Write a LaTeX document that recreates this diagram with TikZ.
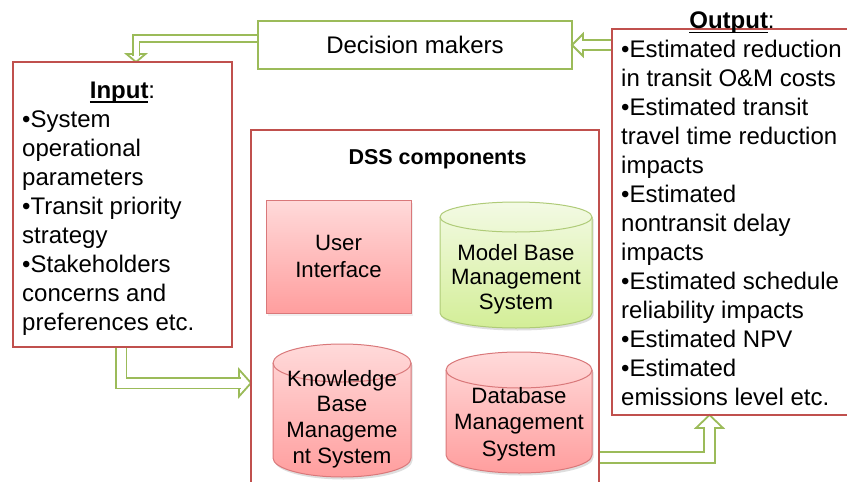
\documentclass[tikz,border=0pt]{standalone}
\usepackage{fontspec}
\setmainfont{Liberation Sans}
\usetikzlibrary{calc,shadows}

\definecolor{boxred}{HTML}{C0504D}
\definecolor{arrowgreen}{HTML}{9BBB59}
\definecolor{pinktop}{HTML}{FFDADA}
\definecolor{pinkbot}{HTML}{FF9E9E}
\definecolor{pinkedge}{HTML}{D9787A}
\definecolor{greentop}{HTML}{F3FAE4}
\definecolor{greenbot}{HTML}{D3EE97}
\definecolor{greenedge}{HTML}{AFCB78}

\pgfdeclarelayer{background}
\pgfsetlayers{background,main}

% underline that runs through descenders
\newcommand\titleul[1]{\setbox0\hbox{#1}\rlap{\rule[-4.8pt]{\wd0}{1.6pt}}\box0}

% cylinder outline: x0, x1, top, bottom, end radius
\newcommand\cylpath[5]{%
  (#1,{-(#3+#5)}) -- (#1,{-(#4-#5)})
     arc[start angle=180, end angle=360, x radius=\cylrx, y radius=#5]
     -- (#2,{-(#3+#5)})
     arc[start angle=0, end angle=180, x radius=\cylrx, y radius=#5] -- cycle}

% cylinder: x0, x1, top, bottom, end radius, fill style, edge colour
\newcommand\dsscyl[7]{%
  \pgfmathsetmacro\cylrx{(#2-#1)/2}%
  \path[fill=black, opacity=0.13, xshift=1.5pt, yshift=-2.5pt] \cylpath{#1}{#2}{#3}{#4}{#5};
  \path[#6] \cylpath{#1}{#2}{#3}{#4}{#5};
  \draw[draw=#7, line width=1pt] (#1,{-(#3+#5)})
     arc[start angle=180, end angle=360, x radius=\cylrx, y radius=#5];
}

\tikzset{
  redbox/.style={draw=boxred, line width=2pt, rectangle, inner sep=0pt, outer sep=0pt},
  greenbox/.style={draw=arrowgreen, line width=2pt, rectangle, inner sep=0pt, outer sep=0pt},
  bigtext/.style={font=\fontsize{24}{29}\selectfont},
  listtext/.style={bigtext, align=left, inner sep=0pt, anchor=north west},
  comptext/.style={font=\fontsize{22.2}{#1}\selectfont, align=center, inner sep=0pt},
  comptext/.default=26,
  shaftline/.style={draw=arrowgreen, line width=1.8pt, double=white, double distance=#1},
  headtri/.style={draw=arrowgreen, line width=1.8pt, fill=white, line join=miter},
  pinkfill/.style={top color=pinktop, bottom color=pinkbot, draw=pinkedge, line width=1pt},
  greenfill/.style={top color=greentop, bottom color=greenbot, draw=greenedge, line width=1pt},
}

\begin{document}
\begin{tikzpicture}[x=1pt, y=1pt]
\useasboundingbox (0,0) rectangle (847,-482);
\clip (0,0) rectangle (847,-482);

% decision makers
\node[greenbox, minimum width=314pt, minimum height=48pt, bigtext] (dm) at (415,-45) {Decision makers};

% input
\node[redbox, minimum width=219pt, minimum height=285pt, anchor=north west] (in) at (13,-62) {};
\node[bigtext, anchor=base, inner sep=0pt] (intitle) at (122.5,-98) {\titleul{\textbf{Input}}:};
\node[listtext] (inlist) at (22,-107) {\rule{0pt}{20pt}•System\\operational\\parameters\\•Transit priority\\strategy\\•Stakeholders\\concerns and\\preferences etc.};

% output
\node[redbox, minimum width=250pt, minimum height=386pt, anchor=north west] (out) at (612,-29) {};
\node[bigtext, anchor=base, inner sep=0pt] (outtitle) at (732,-28.5) {\titleul{\textbf{Output}}:};
\node[listtext] (outlist) at (621,-37) {\rule{0pt}{20pt}•Estimated reduction\\in transit O\&M costs\\•Estimated transit\\travel time reduction\\impacts\\•Estimated\\nontransit delay\\impacts\\•Estimated schedule\\reliability impacts\\•Estimated NPV\\•Estimated\\emissions level etc.};

% DSS components
\node[redbox, minimum width=348pt, minimum height=380pt, anchor=north west] (dss) at (251,-130) {};
\node[font=\fontsize{21.5}{26}\selectfont\bfseries, anchor=base, inner sep=0pt] (dsstitle) at (437.5,-164) {DSS components};

\node[pinkfill, minimum width=145pt, minimum height=113pt, comptext=27, outer sep=0pt,
      drop shadow={opacity=0.13, shadow xshift=1.5pt, shadow yshift=-2.5pt}] (ui) at (338.5,-256.5) {User\\Interface};

\dsscyl{440}{592}{202}{328}{15}{greenfill}{greenedge}
\node[comptext=24.5] (mb) at (516,-279) {Model Base\\Management\\System};

\dsscyl{273}{411}{344}{477}{19}{pinkfill}{pinkedge}
\node[comptext=25.7] (kb) at (342,-419) {Knowledge\\Base\\Manageme\\nt System};

\dsscyl{446}{592}{352}{473}{18}{pinkfill}{pinkedge}
\node[comptext=26.5] (db) at (519,-424) {Database\\Management\\System};

% block arrows
\begin{pgfonlayer}{background}
  % decision makers -> input
  \coordinate (t1) at ($(in.north)+(13.5,0)$);
  \draw[headtri] (t1) -- ++(-9.5,8) -- ++(19,0) -- cycle;
  \draw[shaftline=5pt] ($(dm.west)+(0,6.5)$) -| ($(t1)+(0,6.5)$);

  % output -> decision makers
  \draw[headtri] (dm.east) -- ++(11,11) -- ++(0,-22) -- cycle;
  \draw[shaftline=8pt] (out.west |- dm.east) -- ($(dm.east)+(9.5,0)$);

  % input -> DSS components
  \coordinate (t3) at ($(dss.north west)+(0,-253)$);
  \draw[headtri] (t3) -- ++(-12,13.5) -- ++(0,-27) -- cycle;
  \draw[shaftline=9pt] ($(in.south west)+(108,0)$) |- ($(t3)+(-10.5,0)$);

  % DSS components -> output
  \coordinate (t4) at ($(out.south west)+(97.5,0)$);
  \draw[headtri] (t4) -- ++(-13.5,-13) -- ++(27,0) -- cycle;
  \draw[shaftline=9pt] ($(dss.north east)+(0,-327.5)$) -| ($(t4)+(0,-11.5)$);
\end{pgfonlayer}
\end{tikzpicture}
\end{document}
